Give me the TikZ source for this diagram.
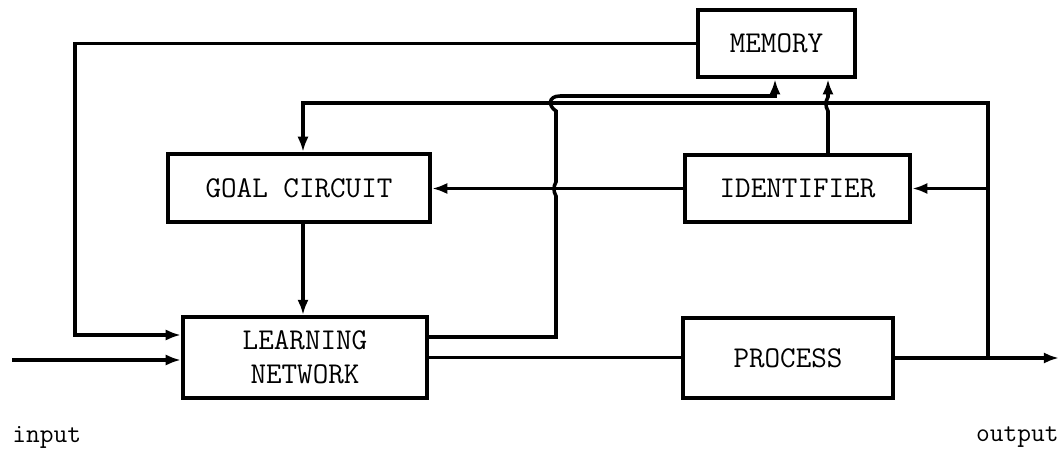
\documentclass[tikz,border=0pt]{standalone}
\usetikzlibrary{arrows.meta}
\begin{document}
\begin{tikzpicture}[
  x=0.025cm, y=-0.025cm,
  box/.style={
    draw,
    line width=3pt,
    inner sep=0pt,
    align=center,
    font=\fontsize{21.5}{24}\selectfont\ttfamily
  },
  tag/.style={inner sep=0pt,font=\fontsize{19}{24}\selectfont\ttfamily},
  wire/.style={line width=2.5pt},
  arrow/.style={wire,-{Latex[length=3.8mm,width=2.8mm]}}
]
  \useasboundingbox (0,0) rectangle (1061,453);
  \node[box,minimum width=3.93cm,minimum height=1.68cm] (memory) at (776.5,43.5) {MEMORY};
  \node[box,minimum width=5.63cm,minimum height=1.68cm] (identifier) at (797.5,188.5) {IDENTIFIER};
  \node[box,minimum width=6.55cm,minimum height=1.70cm] (goal) at (299,188) {GOAL CIRCUIT};
  \node[box,minimum width=6.10cm,minimum height=2.02cm] (learn) at (305,357.5) {LEARNING\\NETWORK};
  \node[box,minimum width=5.25cm,minimum height=2.00cm] (process) at (788,358) {PROCESS};
  \node[tag,anchor=west] (inlabel) at (12,437) {input};
  \node[tag,anchor=east] (outlabel) at (1059,437) {output};
  \coordinate (input) at (12,360);
  \coordinate (output) at (1059,358);
  \draw[arrow] (memory.west) -| (75,335) -- (learn.west |- 75,335);
  \draw[arrow] (input) -- (input -| learn.west);
  \draw[arrow] (goal.south -| 303,0) -- (learn.north -| 303,0);
  \draw[wire] (learn.east) -- (learn.east -| process.west);
  \draw[arrow] (learn.east |- 0,337) -- (556,337) -- (556,196)
    to[out=120,in=-120] (556,182) -- (556,111)
    .. controls (548,106) and (548,96) .. (560,96) -- (775,96)
    -- (memory.south -| 775,0);
  \draw[arrow] (identifier.north -| 828,0) -- (828,111)
    to[out=120,in=-120] (828,97) -- (memory.south -| 828,0);
  \draw[arrow] (identifier.west) -- (identifier.west -| goal.east);
  \draw[arrow] (process.east) -- (output);
  \draw[arrow] (process.east -| 988,0) -- (988,103) -- (303,103)
    -- (goal.north -| 303,0);
  \draw[arrow] (identifier.east -| 988,0) -- (identifier.east);
\end{tikzpicture}
\end{document}
